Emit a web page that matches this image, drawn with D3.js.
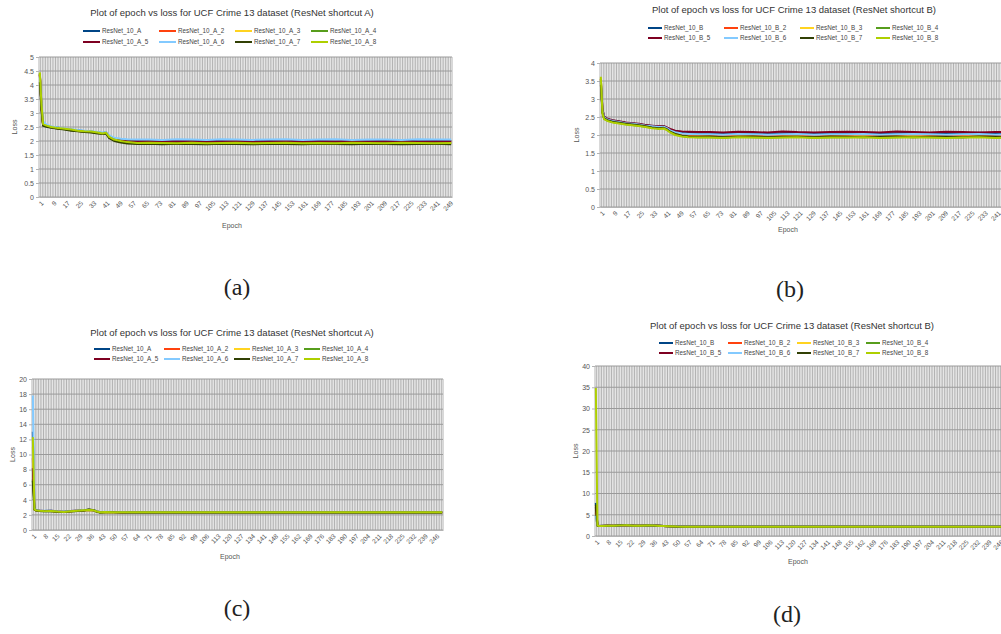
<!DOCTYPE html>
<html>
<head>
<meta charset="utf-8">
<script src="https://cdn.jsdelivr.net/npm/d3@7"></script>
<style>
  body { margin: 0; background: #fff; overflow: hidden; }
  svg { display: block; font-family: "Liberation Sans", Arial, sans-serif; }
</style>
</head>
<body>
<svg id="fig" width="1001" height="634"></svg>
<script>
// number of epochs on every panel
const N = 250;

// LibreOffice default series colours
const seriesColors = ["#004586", "#ff420e", "#ffd320", "#579d1c", "#7e0021", "#83caff", "#314004", "#aecf00"];

const namesA = ["ResNet_10_A", "ResNet_10_A_2", "ResNet_10_A_3", "ResNet_10_A_4",
                "ResNet_10_A_5", "ResNet_10_A_6", "ResNet_10_A_7", "ResNet_10_A_8"];
const namesB = ["ResNet_10_B", "ResNet_10_B_2", "ResNet_10_B_3", "ResNet_10_B_4",
                "ResNet_10_B_5", "ResNet_10_B_6", "ResNet_10_B_7", "ResNet_10_B_8"];

// ---- panel (a) and (b): sampled epochs ----
const epochsAB = [1, 2, 3, 5, 8, 12, 16, 20, 24, 28, 32, 36, 39, 41, 43, 46, 50, 54, 60, 67,
                  75, 84, 93, 102, 111, 120, 130, 140, 150, 160, 170, 180, 190, 200, 210, 220, 230, 240, 250];

const lossA1 = [4.4, 3.25, 2.58, 2.54, 2.5, 2.47, 2.43, 2.4, 2.38, 2.35, 2.33, 2.31, 2.28, 2.31, 2.17, 2.08, 2.04, 2.01, 1.99, 2.0,
                1.98, 2.0, 2.01, 1.99, 2.0, 1.98, 2.0, 2.01, 1.99, 2.0, 2.01, 1.99, 2.0, 1.98, 2.0, 2.01, 1.99, 2.0, 1.99];
const lossA2 = [4.38, 3.2, 2.56, 2.53, 2.49, 2.45, 2.43, 2.39, 2.36, 2.34, 2.32, 2.29, 2.27, 2.29, 2.14, 2.05, 2.0, 1.97, 1.95, 1.95,
                1.94, 1.95, 1.96, 1.94, 1.95, 1.95, 1.94, 1.95, 1.96, 1.94, 1.95, 1.95, 1.94, 1.96, 1.95, 1.94, 1.95, 1.95, 1.94];
const lossA3 = [4.42, 3.3, 2.57, 2.55, 2.5, 2.46, 2.44, 2.4, 2.37, 2.35, 2.33, 2.3, 2.28, 2.3, 2.15, 2.06, 2.01, 1.98, 1.96, 1.97,
                1.95, 1.96, 1.97, 1.95, 1.96, 1.97, 1.95, 1.96, 1.97, 1.95, 1.96, 1.97, 1.96, 1.95, 1.97, 1.96, 1.95, 1.96, 1.96];
const lossA4 = [4.4, 3.22, 2.55, 2.52, 2.48, 2.45, 2.42, 2.38, 2.36, 2.33, 2.32, 2.29, 2.26, 2.28, 2.12, 2.03, 1.98, 1.95, 1.93, 1.93,
                1.92, 1.93, 1.94, 1.92, 1.93, 1.93, 1.92, 1.94, 1.93, 1.92, 1.93, 1.94, 1.92, 1.93, 1.93, 1.92, 1.94, 1.93, 1.92];
const lossA5 = [4.36, 3.24, 2.58, 2.54, 2.5, 2.46, 2.43, 2.4, 2.37, 2.35, 2.33, 2.3, 2.28, 2.31, 2.16, 2.07, 2.02, 1.99, 1.98, 1.98,
                1.97, 1.99, 1.98, 1.97, 1.98, 1.99, 1.97, 1.98, 1.99, 1.97, 1.98, 1.98, 1.99, 1.97, 1.98, 1.99, 1.97, 1.98, 1.98];
const lossA6 = [4.3, 3.35, 2.7, 2.58, 2.52, 2.48, 2.45, 2.42, 2.39, 2.37, 2.35, 2.32, 2.3, 2.32, 2.2, 2.12, 2.08, 2.06, 2.05, 2.05,
                2.04, 2.06, 2.05, 2.04, 2.06, 2.05, 2.04, 2.05, 2.06, 2.04, 2.05, 2.06, 2.04, 2.05, 2.05, 2.04, 2.06, 2.05, 2.05];
const lossA7 = [4.1, 3.1, 2.54, 2.51, 2.47, 2.44, 2.41, 2.37, 2.35, 2.32, 2.3, 2.27, 2.25, 2.27, 2.1, 2.0, 1.95, 1.91, 1.89, 1.9,
                1.88, 1.9, 1.89, 1.88, 1.9, 1.89, 1.88, 1.9, 1.89, 1.88, 1.9, 1.89, 1.88, 1.9, 1.89, 1.88, 1.89, 1.9, 1.88];
const lossA8 = [4.45, 3.3, 2.6, 2.55, 2.5, 2.46, 2.44, 2.41, 2.37, 2.35, 2.34, 2.3, 2.27, 2.3, 2.15, 2.05, 2.0, 1.96, 1.93, 1.94,
                1.93, 1.92, 1.94, 1.92, 1.93, 1.94, 1.92, 1.93, 1.94, 1.92, 1.93, 1.92, 1.94, 1.93, 1.92, 1.94, 1.93, 1.92, 1.93];

const lossB1 = [3.5, 2.7, 2.5, 2.44, 2.4, 2.37, 2.34, 2.32, 2.3, 2.27, 2.25, 2.23, 2.24, 2.2, 2.15, 2.1, 2.07, 2.06, 2.05, 2.05,
                2.04, 2.06, 2.05, 2.04, 2.05, 2.06, 2.04, 2.05, 2.05, 2.06, 2.04, 2.05, 2.06, 2.05, 2.04, 2.05, 2.06, 2.04, 2.05];
const lossB2 = [3.55, 2.66, 2.48, 2.42, 2.38, 2.35, 2.32, 2.3, 2.28, 2.25, 2.22, 2.2, 2.21, 2.17, 2.11, 2.05, 2.0, 1.99, 1.98, 1.98,
                1.97, 1.99, 1.98, 1.97, 1.98, 1.99, 1.97, 1.98, 1.98, 1.99, 1.97, 1.98, 1.99, 1.98, 1.97, 1.98, 1.99, 1.97, 1.98];
const lossB3 = [3.58, 2.64, 2.46, 2.41, 2.37, 2.34, 2.31, 2.29, 2.27, 2.24, 2.21, 2.19, 2.2, 2.16, 2.1, 2.03, 1.98, 1.96, 1.95, 1.95,
                1.94, 1.96, 1.95, 1.94, 1.95, 1.96, 1.94, 1.95, 1.95, 1.96, 1.94, 1.95, 1.96, 1.95, 1.94, 1.95, 1.96, 1.94, 1.95];
const lossB4 = [3.56, 2.63, 2.45, 2.4, 2.36, 2.33, 2.3, 2.28, 2.26, 2.23, 2.2, 2.18, 2.19, 2.15, 2.08, 2.02, 1.97, 1.95, 1.94, 1.94,
                1.93, 1.95, 1.94, 1.93, 1.94, 1.95, 1.93, 1.94, 1.94, 1.95, 1.93, 1.94, 1.95, 1.94, 1.93, 1.94, 1.95, 1.93, 1.94];
const lossB5 = [3.45, 2.72, 2.51, 2.45, 2.41, 2.38, 2.35, 2.33, 2.31, 2.28, 2.26, 2.24, 2.25, 2.21, 2.17, 2.12, 2.1, 2.09, 2.08, 2.08,
                2.07, 2.09, 2.08, 2.07, 2.1, 2.08, 2.07, 2.08, 2.09, 2.08, 2.07, 2.1, 2.08, 2.07, 2.09, 2.08, 2.07, 2.08, 2.08];
const lossB6 = [3.5, 2.68, 2.49, 2.43, 2.39, 2.36, 2.33, 2.31, 2.29, 2.26, 2.24, 2.22, 2.23, 2.19, 2.13, 2.08, 2.04, 2.03, 2.02, 2.02,
                2.01, 2.03, 2.02, 2.01, 2.02, 2.03, 2.01, 2.02, 2.02, 2.03, 2.01, 2.02, 2.03, 2.02, 2.01, 2.02, 2.03, 2.01, 2.02];
const lossB7 = [3.4, 2.62, 2.46, 2.41, 2.37, 2.34, 2.31, 2.29, 2.27, 2.24, 2.21, 2.19, 2.2, 2.16, 2.09, 2.03, 1.98, 1.96, 1.95, 1.96,
                1.94, 1.95, 1.96, 1.94, 1.95, 1.95, 1.94, 1.96, 1.95, 1.94, 1.95, 1.96, 1.94, 1.95, 1.95, 1.94, 1.96, 1.95, 1.94];
const lossB8 = [3.62, 2.6, 2.44, 2.39, 2.35, 2.32, 2.29, 2.27, 2.25, 2.22, 2.19, 2.17, 2.18, 2.14, 2.07, 2.0, 1.96, 1.94, 1.93, 1.93,
                1.92, 1.94, 1.93, 1.92, 1.93, 1.94, 1.92, 1.93, 1.93, 1.94, 1.92, 1.93, 1.94, 1.93, 1.92, 1.93, 1.94, 1.92, 1.93];

// ---- panel (c) and (d): sampled epochs ----
const epochsCD = [1, 2, 3, 5, 8, 12, 16, 20, 24, 28, 32, 35, 38, 40, 42, 45, 50, 55, 60, 70,
                  80, 90, 100, 120, 140, 160, 180, 200, 220, 240, 250];

const lossC1 = [13.0, 2.8, 2.62, 2.56, 2.52, 2.54, 2.46, 2.42, 2.5, 2.56, 2.62, 2.66, 2.6, 2.46, 2.36, 2.39, 2.37, 2.35, 2.34, 2.34,
                2.34, 2.33, 2.33, 2.33, 2.33, 2.33, 2.33, 2.33, 2.33, 2.33, 2.33];
const lossC2 = [9.5, 2.75, 2.6, 2.55, 2.5, 2.52, 2.44, 2.4, 2.48, 2.54, 2.6, 2.64, 2.58, 2.44, 2.34, 2.37, 2.35, 2.34, 2.33, 2.33,
                2.33, 2.32, 2.32, 2.32, 2.32, 2.32, 2.32, 2.32, 2.32, 2.32, 2.32];
const lossC3 = [11.0, 2.7, 2.58, 2.54, 2.5, 2.53, 2.45, 2.41, 2.49, 2.55, 2.61, 2.65, 2.59, 2.45, 2.35, 2.38, 2.36, 2.35, 2.34, 2.34,
                2.33, 2.33, 2.33, 2.33, 2.33, 2.33, 2.33, 2.33, 2.33, 2.33, 2.33];
const lossC4 = [6.7, 2.72, 2.6, 2.53, 2.48, 2.5, 2.43, 2.39, 2.47, 2.53, 2.58, 2.7, 2.62, 2.43, 2.33, 2.36, 2.35, 2.34, 2.33, 2.33,
                2.33, 2.32, 2.32, 2.32, 2.32, 2.32, 2.32, 2.32, 2.32, 2.32, 2.32];
const lossC5 = [8.2, 2.78, 2.63, 2.57, 2.53, 2.55, 2.47, 2.43, 2.51, 2.57, 2.63, 2.67, 2.61, 2.47, 2.37, 2.4, 2.38, 2.36, 2.35, 2.35,
                2.34, 2.34, 2.34, 2.34, 2.34, 2.34, 2.34, 2.34, 2.34, 2.34, 2.34];
const lossC6 = [17.8, 2.9, 2.66, 2.58, 2.54, 2.56, 2.48, 2.44, 2.52, 2.58, 2.64, 2.68, 2.62, 2.48, 2.38, 2.41, 2.39, 2.37, 2.36, 2.36,
                2.35, 2.35, 2.35, 2.35, 2.35, 2.35, 2.35, 2.35, 2.35, 2.35, 2.35];
const lossC7 = [6.5, 2.7, 2.57, 2.52, 2.47, 2.49, 2.42, 2.38, 2.46, 2.52, 2.57, 2.72, 2.63, 2.42, 2.32, 2.35, 2.34, 2.33, 2.32, 2.32,
                2.32, 2.31, 2.31, 2.31, 2.31, 2.31, 2.31, 2.31, 2.31, 2.31, 2.31];
const lossC8 = [12.3, 2.74, 2.6, 2.55, 2.5, 2.52, 2.45, 2.4, 2.48, 2.55, 2.6, 2.65, 2.6, 2.45, 2.35, 2.38, 2.36, 2.35, 2.34, 2.34,
                2.34, 2.34, 2.34, 2.34, 2.34, 2.34, 2.34, 2.34, 2.34, 2.34, 2.34];

const lossD1 = [7.8, 2.48, 2.37, 2.4, 2.44, 2.42, 2.52, 2.56, 2.44, 2.42, 2.47, 2.52, 2.44, 2.4, 2.36, 2.31, 2.23, 2.21, 2.21, 2.21,
                2.21, 2.21, 2.21, 2.21, 2.21, 2.21, 2.21, 2.21, 2.21, 2.21, 2.21];
const lossD2 = [5.5, 2.44, 2.34, 2.37, 2.41, 2.39, 2.49, 2.53, 2.41, 2.39, 2.44, 2.49, 2.41, 2.37, 2.34, 2.29, 2.21, 2.2, 2.2, 2.2,
                2.2, 2.2, 2.2, 2.2, 2.2, 2.2, 2.2, 2.2, 2.2, 2.2, 2.2];
const lossD3 = [6.2, 2.46, 2.36, 2.39, 2.43, 2.41, 2.51, 2.55, 2.43, 2.41, 2.46, 2.51, 2.43, 2.39, 2.35, 2.3, 2.22, 2.2, 2.2, 2.2,
                2.2, 2.2, 2.2, 2.2, 2.2, 2.2, 2.2, 2.2, 2.2, 2.2, 2.2];
const lossD4 = [5.0, 2.43, 2.33, 2.36, 2.4, 2.38, 2.48, 2.58, 2.45, 2.4, 2.44, 2.48, 2.4, 2.36, 2.33, 2.28, 2.21, 2.19, 2.19, 2.19,
                2.19, 2.19, 2.19, 2.19, 2.19, 2.19, 2.19, 2.19, 2.19, 2.19, 2.19];
const lossD5 = [6.8, 2.5, 2.38, 2.41, 2.45, 2.43, 2.53, 2.57, 2.45, 2.43, 2.48, 2.53, 2.45, 2.41, 2.37, 2.32, 2.24, 2.22, 2.22, 2.22,
                2.22, 2.22, 2.22, 2.22, 2.22, 2.22, 2.22, 2.22, 2.22, 2.22, 2.22];
const lossD6 = [4.8, 2.47, 2.36, 2.39, 2.43, 2.41, 2.51, 2.55, 2.43, 2.41, 2.46, 2.51, 2.43, 2.39, 2.35, 2.3, 2.22, 2.21, 2.21, 2.21,
                2.21, 2.21, 2.21, 2.21, 2.21, 2.21, 2.21, 2.21, 2.21, 2.21, 2.21];
const lossD7 = [7.4, 2.42, 2.33, 2.37, 2.43, 2.42, 2.55, 2.5, 2.4, 2.42, 2.5, 2.47, 2.42, 2.4, 2.33, 2.28, 2.2, 2.19, 2.19, 2.19,
                2.19, 2.19, 2.19, 2.19, 2.19, 2.19, 2.19, 2.19, 2.19, 2.19, 2.19];
const lossD8 = [34.8, 2.45, 2.35, 2.38, 2.42, 2.4, 2.5, 2.55, 2.42, 2.4, 2.45, 2.5, 2.42, 2.38, 2.35, 2.3, 2.22, 2.2, 2.2, 2.2,
                2.2, 2.2, 2.2, 2.2, 2.2, 2.2, 2.2, 2.2, 2.2, 2.2, 2.2];

const titleA = "Plot of epoch vs loss for UCF Crime 13 dataset (ResNet shortcut A)";
const titleB = "Plot of epoch vs loss for UCF Crime 13 dataset (ResNet shortcut B)";

// layout of the four sub-charts
const panels = [
  { cap: "(a)", capX: 237, capY: 287, title: titleA, titleX: 232, titleY: 13, names: namesA,
    legX: 83, legDX: 76, legY: 31, legDY: 11, sw: 17,
    x0: 39, w: 413, yTop: 57, y0: 197, yMax: 5, yStep: 0.5, tickStep: 8,
    lossX: 15, epochX: 232, epochY: 226, epochs: epochsAB,
    series: [lossA1, lossA2, lossA3, lossA4, lossA5, lossA6, lossA7, lossA8] },
  { cap: "(b)", capX: 790, capY: 289, title: titleB, titleX: 794, titleY: 10, names: namesB,
    legX: 648, legDX: 76, legY: 28, legDY: 10, sw: 14,
    x0: 600, w: 413, yTop: 63, y0: 207, yMax: 4, yStep: 0.5, tickStep: 8,
    lossX: 577, epochX: 788, epochY: 230, epochs: epochsAB,
    series: [lossB1, lossB2, lossB3, lossB4, lossB5, lossB6, lossB7, lossB8] },
  { cap: "(c)", capX: 237, capY: 608, title: titleA, titleX: 232, titleY: 333, names: namesA,
    legX: 94, legDX: 70, legY: 349, legDY: 10, sw: 16,
    x0: 32, w: 411, yTop: 379, y0: 530, yMax: 20, yStep: 2, tickStep: 7,
    lossX: 13, epochX: 230, epochY: 557, epochs: epochsCD,
    series: [lossC1, lossC2, lossC3, lossC4, lossC5, lossC6, lossC7, lossC8] },
  { cap: "(d)", capX: 787, capY: 614, title: titleB, titleX: 792, titleY: 326, names: namesB,
    legX: 659, legDX: 69, legY: 343, legDY: 10, sw: 14,
    x0: 595, w: 412, yTop: 366, y0: 536, yMax: 40, yStep: 5, tickStep: 7,
    lossX: 576, epochX: 798, epochY: 562, epochs: epochsCD,
    series: [lossD1, lossD2, lossD3, lossD4, lossD5, lossD6, lossD7, lossD8] }
];

const svg = d3.select("#fig");

function drawPanel(p) {
  const g = svg.append("g");
  const x = d3.scaleLinear().domain([0.5, N + 0.5]).range([p.x0, p.x0 + p.w]);
  const y = d3.scaleLinear().domain([0, p.yMax]).range([p.y0, p.yTop]);
  const yTicks = d3.range(0, p.yMax + p.yStep / 2, p.yStep);

  // one thin grid line on every category boundary
  g.append("g").selectAll("line")
    .data(d3.range(N + 1))
    .join("line")
    .attr("x1", d => x(d + 0.5)).attr("x2", d => x(d + 0.5))
    .attr("y1", p.yTop).attr("y2", p.y0)
    .attr("stroke", "#a9a9a9")
    .attr("stroke-width", 0.9);

  g.append("g").selectAll("line")
    .data(yTicks)
    .join("line")
    .attr("x1", p.x0).attr("x2", p.x0 + p.w)
    .attr("y1", d => y(d)).attr("y2", d => y(d))
    .attr("stroke", "#9a9a9a")
    .attr("stroke-width", 1);

  const ya = g.append("g")
    .attr("transform", `translate(${p.x0},0)`)
    .call(d3.axisLeft(y).tickValues(yTicks).tickSize(3).tickPadding(2).tickFormat(d3.format("~g")));
  ya.select(".domain").remove();
  ya.selectAll("line").attr("stroke", "#b3b3b3");
  ya.selectAll("text").attr("fill", "#555").style("font-size", "7px");

  const xa = g.append("g")
    .attr("transform", `translate(0,${p.y0})`)
    .call(d3.axisBottom(x).tickValues(d3.range(1, N + 1, p.tickStep)).tickSize(0).tickFormat(d => d));
  xa.select(".domain").attr("stroke", "#b3b3b3");
  xa.selectAll("text")
    .attr("y", 0).attr("dy", "0.35em")
    .attr("transform", "translate(2,5) rotate(-45)")
    .attr("text-anchor", "end")
    .attr("fill", "#555")
    .style("font-size", "6.5px");

  const line = d3.line()
    .defined(d => d != null)
    .x((d, i) => x(p.epochs[i]))
    .y(d => y(d));

  g.append("g")
    .attr("fill", "none")
    .attr("stroke-width", 2)
    .attr("stroke-linejoin", "round")
    .selectAll("path")
    .data(p.series)
    .join("path")
    .attr("stroke", (d, i) => seriesColors[i])
    .attr("d", line);

  // legend, 4 per row
  const lg = g.append("g").selectAll("g")
    .data(p.names)
    .join("g")
    .attr("transform", (d, i) => `translate(${p.legX + (i % 4) * p.legDX},${p.legY + Math.floor(i / 4) * p.legDY})`);
  lg.append("line")
    .attr("x1", 0).attr("x2", p.sw)
    .attr("stroke", (d, i) => seriesColors[i])
    .attr("stroke-width", 2);
  lg.append("text")
    .attr("x", p.sw + 2).attr("dy", "0.35em")
    .attr("fill", "#444")
    .style("font-size", "6.3px")
    .text(d => d);

  g.append("text")
    .attr("x", p.titleX).attr("y", p.titleY).attr("dy", "0.35em")
    .attr("text-anchor", "middle")
    .attr("fill", "#333")
    .style("font-size", "9.5px")
    .text(p.title);

  g.append("text")
    .attr("transform", `translate(${p.lossX},${(p.yTop + p.y0) / 2}) rotate(-90)`)
    .attr("text-anchor", "middle").attr("dy", "0.35em")
    .attr("fill", "#555")
    .style("font-size", "7px")
    .text("Loss");

  g.append("text")
    .attr("x", p.epochX).attr("y", p.epochY).attr("dy", "0.35em")
    .attr("text-anchor", "middle")
    .attr("fill", "#555")
    .style("font-size", "7px")
    .text("Epoch");

  g.append("text")
    .attr("x", p.capX).attr("y", p.capY).attr("dy", "0.35em")
    .attr("text-anchor", "middle")
    .attr("fill", "#222")
    .style("font-family", "'Liberation Serif', 'DejaVu Serif', serif")
    .style("font-size", "24px")
    .text(p.cap);
}

panels.forEach(drawPanel);
</script>
</body>
</html>
